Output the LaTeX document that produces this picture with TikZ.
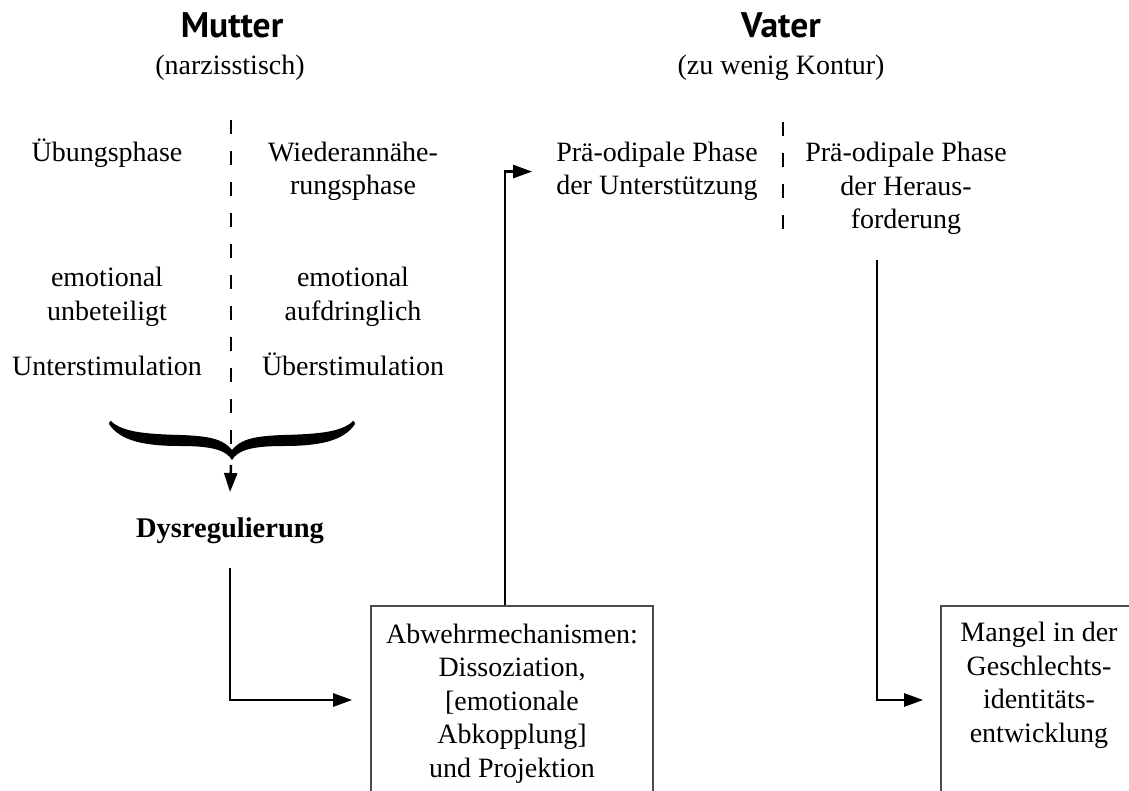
\documentclass[tikz,border=0pt]{standalone}
\usepackage{fontspec}
\setmainfont{Liberation Serif}
\newfontfamily\headfont{PT Sans}
\usetikzlibrary{arrows.meta}
\begin{document}
\begin{tikzpicture}[x=1pt,y=-1pt,
  txt/.style={font=\fontsize{28}{33.5}\selectfont, inner sep=0pt, align=center, anchor=base},
  head/.style={font=\headfont\bfseries\fontsize{35.5}{42}\selectfont, inner sep=0pt, anchor=base},
  conn/.style={line width=2.5pt, -{Triangle[length=19pt,width=13pt]}},
  dashline/.style={line width=2.5pt, dash pattern=on 14pt off 17pt},
  boxshape/.style={draw=black!70, line width=1.6pt, inner sep=0pt, rectangle}
]
\useasboundingbox (0,0) rectangle (1129,791);
% headers
\node[head] (mutter) at (232,38) {Mutter};
\node[txt] (narz) at (230,75) {(narzisstisch)};
\node[head] (vater) at (781,38) {Vater};
\node[txt] (kontur) at (781,75) {(zu wenig Kontur)};
% mother column
\node[txt] (uebung) at (107,162) {Übungsphase};
\node[txt] (wieder) at (353,195) {Wiederannähe-\\rungsphase};
\node[txt] (emo1) at (107,320) {emotional\\unbeteiligt};
\node[txt] (emo2) at (353,320) {emotional\\aufdringlich};
\node[txt] (unter) at (107,375) {Unterstimulation};
\node[txt] (ueber) at (353,375) {Überstimulation};
\node[txt, font=\bfseries\fontsize{28.5}{33.5}\selectfont] (dys) at (230,537) {Dysregulierung};
% father column
\node[txt] (pre1) at (657,195) {Prä-odipale Phase\\der Unterstützung};
\node[txt] (pre2) at (906,229) {Prä-odipale Phase\\der Heraus-\\forderung};
% dashed separators
\draw[dashline] (231,120) -- (231,450);
\draw[dashline] (783,122) -- (783,245);
% brace
\fill (109,424) .. controls (120,441) and (145,446) .. (180,446)
  .. controls (212,446) and (226,450) .. (232,460)
  .. controls (238,450) and (252,446) .. (284,446)
  .. controls (319,446) and (344,441) .. (355,424)
  .. controls (355,422) and (354,421) .. (353,421)
  .. controls (342,432) and (319,434) .. (284,435)
  .. controls (252,436) and (240,440) .. (232,450)
  .. controls (224,440) and (212,436) .. (180,435)
  .. controls (145,434) and (122,432) .. (111,421)
  .. controls (110,421) and (109,422) .. (109,424) -- cycle;
\coordinate (bracetip) at (231,465);
% boxes
\node[boxshape, minimum width=282pt, minimum height=188pt] (box1) at (512,700) {};
\node[txt] (box1t) at (512,777) {Abwehrmechanismen:\\Dissoziation,\\{[}emotionale\\Abkopplung{]}\\und Projektion};
\node[boxshape, minimum width=196pt, minimum height=188pt] (box2) at (1039,700) {};
\node[txt] (box2t) at (1039,742) {Mangel in der\\Geschlechts-\\identitäts-\\entwicklung};
% connectors
\draw[conn] (bracetip) -- ([yshift=25pt]dys.north);
\draw[conn, shorten >=18pt] ([yshift=-25pt]dys.south) |- (box1.west);
\draw[conn, shorten >=24pt] ([xshift=-7pt]box1.north) |- (pre1.west);
\draw[conn, shorten >=17pt] ([xshift=-29pt,yshift=-25pt]pre2.south) |- (box2.west);
\end{tikzpicture}
\end{document}
